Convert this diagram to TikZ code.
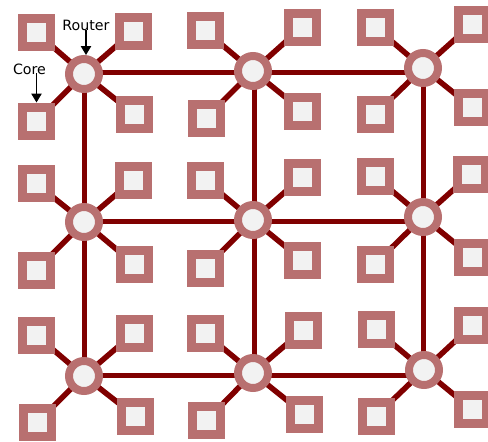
\documentclass[tikz,border=0pt]{standalone}
\usepackage{fontspec}
\setmainfont{DejaVu Sans}
\usetikzlibrary{arrows.meta}
\pgfdeclarelayer{bg}
\pgfsetlayers{bg,main}
\definecolor{ringcol}{RGB}{184,112,112}
\definecolor{innercol}{RGB}{242,242,242}
\definecolor{linkcol}{RGB}{128,0,0}
\tikzset{
  router/.style={circle,draw=ringcol,fill=innercol,line width=8pt,inner sep=0pt,minimum size=30pt},
  core/.style={rectangle,draw=ringcol,fill=innercol,line width=9pt,inner sep=0pt,minimum size=28pt},
  link/.style={draw=linkcol,line width=5pt},
  spoke/.style={draw=linkcol,line width=5.5pt},
  lbl/.style={font=\fontsize{14.2}{16}\selectfont,inner sep=0pt},
  pointer/.style={draw=black,line width=1.1pt,-{Triangle[width=10.5pt,length=9pt]}}
}
\begin{document}
\begin{tikzpicture}[x=1pt,y=-1pt]
\useasboundingbox (0,0) rectangle (488,442);
% grid lines of the mesh
\coordinate (row1) at (0,72);
\coordinate (row2) at (0,221.5);
\coordinate (row3) at (0,375);
\coordinate (col1) at (84,0);
\coordinate (col2) at (254,0);
\coordinate (col3) at (423.5,0);
% routers
\node[router] (r1) at (84,74) {};
\node[router] (r2) at (253,71) {};
\node[router] (r3) at (423,68) {};
\node[router] (r4) at (84,222) {};
\node[router] (r5) at (253,220) {};
\node[router] (r6) at (423,217) {};
\node[router] (r7) at (84,376) {};
\node[router] (r8) at (253,373) {};
\node[router] (r9) at (424,370) {};
% cores (tl, tr, bl, br) per router
\node[core] (c1a) at (36.5,32.5) {};
\node[core] (c1b) at (133.5,31) {};
\node[core] (c1c) at (36.5,121) {};
\node[core] (c1d) at (134.5,114.5) {};
\node[core] (c2a) at (205,30.5) {};
\node[core] (c2b) at (302,27) {};
\node[core] (c2c) at (206,118) {};
\node[core] (c2d) at (302.5,111) {};
\node[core] (c3a) at (375,27) {};
\node[core] (c3b) at (472,24) {};
\node[core] (c3c) at (375,114.5) {};
\node[core] (c3d) at (472,107.5) {};
\node[core] (c4a) at (36,183.5) {};
\node[core] (c4b) at (133,180) {};
\node[core] (c4c) at (36,270.5) {};
\node[core] (c4d) at (134,264) {};
\node[core] (c5a) at (205,180) {};
\node[core] (c5b) at (302,177) {};
\node[core] (c5c) at (205.5,268) {};
\node[core] (c5d) at (302.5,260.5) {};
\node[core] (c6a) at (375,176.5) {};
\node[core] (c6b) at (471,174) {};
\node[core] (c6c) at (375,264) {};
\node[core] (c6d) at (472,257) {};
\node[core] (c7a) at (36.5,335.5) {};
\node[core] (c7b) at (134,333) {};
\node[core] (c7c) at (37,422.5) {};
\node[core] (c7d) at (135,416) {};
\node[core] (c8a) at (205.5,333.5) {};
\node[core] (c8b) at (303,330) {};
\node[core] (c8c) at (206.5,420.5) {};
\node[core] (c8d) at (304,414) {};
\node[core] (c9a) at (376,329.5) {};
\node[core] (c9b) at (472,325.5) {};
\node[core] (c9c) at (376,416) {};
\node[core] (c9d) at (472,409.5) {};
\begin{pgfonlayer}{bg}
% mesh links
\draw[link] (r1 |- row1) -- (r3 |- row1);
\draw[link] (r4 |- row2) -- (r6 |- row2);
\draw[link] (r7 |- row3) -- (r9 |- row3);
\draw[link] (col1 |- r1) -- (col1 |- r7);
\draw[link] (col2 |- r2) -- (col2 |- r8);
\draw[link] (col3 |- r3) -- (col3 |- r9);
% spokes
\foreach \r in {1,...,9}{
  \foreach \c in {a,b,c,d}{
    \draw[spoke] (r\r.center) -- (c\r\c.center);
  }
}
\end{pgfonlayer}
% labels
\node[lbl] (routerlbl) at (86,25.5) {Router};
\node[lbl] (corelbl) at (29.5,69.5) {Core};
\draw[pointer] (routerlbl.south) ++(0,-1) -- (r1.north -| routerlbl.south);
\draw[pointer] (corelbl.south -| c1c.north) ++(0,-2) -- (c1c.north);
\end{tikzpicture}
\end{document}
